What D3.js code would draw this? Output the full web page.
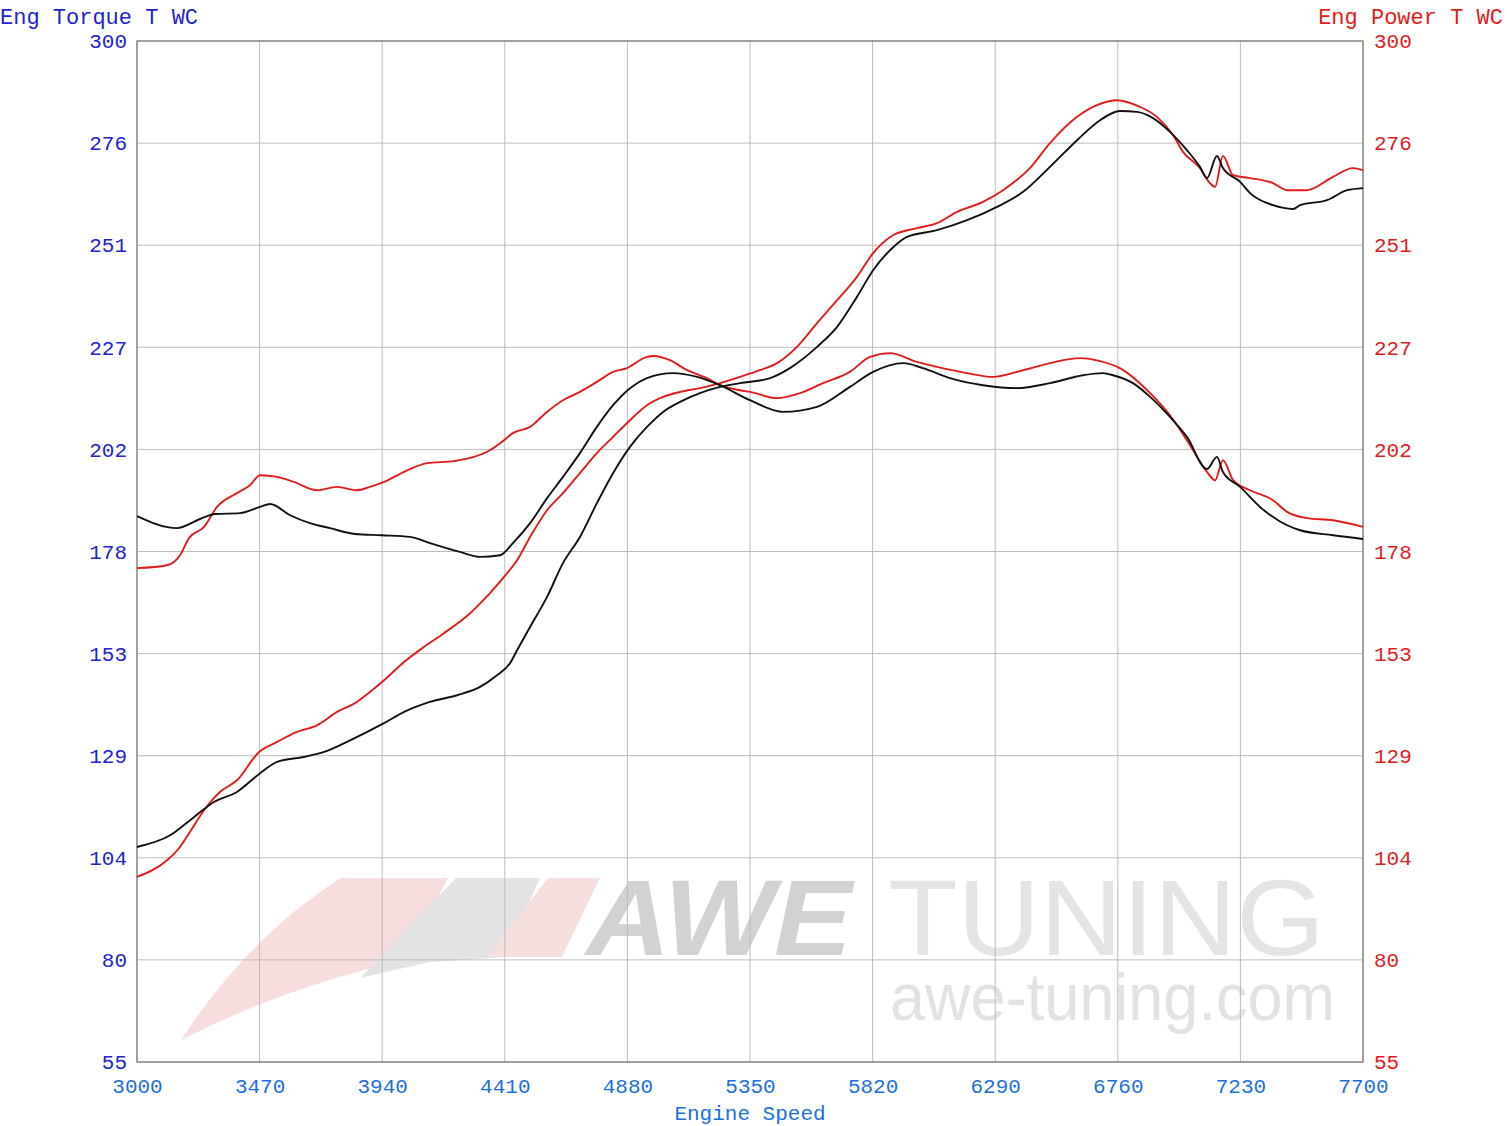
<!DOCTYPE html>
<html><head><meta charset="utf-8">
<script src="https://cdn.jsdelivr.net/npm/d3@7"></script>
<style>body{margin:0;background:#fff}</style>
</head><body><svg id="c" width="1507" height="1126"></svg>
<script>
// ---- data ----
const xTicks = [3000,3470,3940,4410,4880,5350,5820,6290,6760,7230,7700];
const yTickLabels = ["300","276","251","227","202","178","153","129","104","80","55"];

const blackTorqueRpm = [3000,3153,3242,3299,3395,3472,3510,3587,3663,3740,3836,3939,4047,4123,4238,4315,4392,4441,4507,4572,4633,4698,4763,4825,4890,4955,5055,5147,5235,5350,5477,5607,5733,5822,5937,6013,6117,6243,6374,6500,6627,6703,6742,6818,6884,6960,7025,7102,7140,7163,7229,7305,7409,7459,7585,7700];
const blackTorque = [186.0,183.1,185.3,186.5,186.7,188.2,188.9,186.2,184.3,183.1,181.7,181.4,181.0,179.5,177.4,176.2,176.6,179.5,184.3,190.3,195.4,201.1,207.4,212.6,216.7,219.1,220.3,219.4,217.4,213.8,211.0,212.2,217.0,220.6,222.7,221.5,219.1,217.4,216.7,217.9,219.8,220.3,219.8,217.9,214.6,209.8,205.0,197.3,200.2,196.6,193.0,188.2,183.8,182.6,181.4,180.5];

const redTorqueRpm = [3000,3115,3165,3199,3257,3307,3383,3433,3472,3537,3602,3690,3767,3843,3893,3947,4024,4112,4215,4292,4353,4407,4441,4507,4572,4633,4698,4763,4825,4878,4955,4978,5043,5109,5185,5235,5312,5350,5454,5542,5630,5733,5810,5887,5990,6067,6182,6282,6397,6500,6615,6692,6768,6884,6960,7025,7102,7133,7163,7202,7267,7355,7409,7485,7585,7700];
const redTorque = [173.5,174.2,176.6,180.7,183.4,188.2,191.5,193.4,195.8,195.4,194.2,192.2,193.0,192.2,193.0,194.2,196.6,198.7,199.2,200.2,201.8,204.2,205.9,207.4,211.0,213.8,215.8,218.2,220.6,221.5,224.2,224.4,223.4,221.0,219.1,217.4,216.2,215.8,214.3,215.5,217.9,220.6,224.2,225.1,223.0,221.8,220.3,219.4,221.0,222.7,223.9,223.2,221.5,215.5,210.2,204.2,196.6,194.6,199.4,194.6,192.2,189.8,187.0,185.5,185.0,183.4];

const blackPowerRpm = [3000,3127,3219,3295,3383,3472,3537,3640,3717,3817,3947,4024,4123,4227,4315,4380,4430,4457,4507,4572,4633,4698,4763,4825,4890,4955,5017,5082,5158,5235,5312,5427,5503,5607,5684,5760,5822,5887,5952,6067,6182,6297,6397,6500,6604,6692,6768,6834,6895,6960,7025,7075,7102,7140,7163,7229,7267,7355,7432,7459,7562,7639,7700];
const blackPower = [106.6,109.4,113.8,117.4,119.8,124.3,127.0,128.2,129.4,132.2,136.3,139.0,141.4,143.0,145.0,147.8,150.7,153.8,159.4,166.6,174.7,181.0,189.1,196.3,202.6,207.4,211.0,213.4,215.5,217.0,217.9,219.1,221.5,226.6,231.4,238.6,245.0,249.8,253.0,254.6,257.0,260.2,263.8,269.8,276.2,281.0,283.2,283.0,281.5,278.2,273.8,269.8,267.1,272.4,269.5,266.2,263.5,260.6,259.7,260.6,261.8,264.2,264.7];

const redPowerRpm = [3000,3115,3165,3203,3257,3318,3383,3468,3537,3613,3690,3767,3843,3893,3947,4024,4100,4177,4277,4353,4407,4457,4507,4572,4633,4698,4763,4825,4890,4955,5017,5082,5158,5235,5312,5388,5454,5530,5607,5684,5760,5822,5898,5990,6067,6144,6243,6320,6423,6500,6604,6680,6757,6845,6910,6972,7010,7075,7113,7133,7163,7202,7267,7355,7409,7485,7585,7662,7700];
const redPower = [99.4,103.4,106.6,110.2,115.4,119.8,122.6,129.4,131.8,134.2,135.8,139.0,141.4,143.8,146.6,151.0,154.6,157.9,162.7,167.5,171.4,175.4,181.0,187.4,191.5,196.3,201.1,205.0,209.0,212.6,214.6,215.8,216.7,217.9,219.4,221.0,222.7,226.6,232.3,237.8,243.4,249.1,253.4,255.1,256.3,259.0,261.4,264.2,269.5,275.5,281.8,284.6,285.8,284.2,281.8,277.4,273.4,269.5,265.9,265.0,272.4,267.8,267.1,265.9,264.2,264.2,267.4,269.5,269.0];

// ---- layout ----
const m = {l:137, r:1363, t:41, b:1062};
const svg = d3.select("#c");
const x = d3.scaleLinear().domain([3000,7700]).range([m.l, m.r]);
const y = d3.scaleLinear().domain([55,300]).range([m.b, m.t]);
const yTickVals = yTickLabels.map((_, i) => 300 - 24.5 * i);
const mono = "'Liberation Mono','DejaVu Sans Mono',monospace";
const blueL = "#2323cf", blueX = "#1c6fe0", red = "#e41b1b";

// ---- watermark ----
const wm = svg.append("g");
wm.append("path").attr("d","M181,1040 Q250,935 341,878 L448,878 L405,960 Q290,985 181,1040 Z").attr("fill","#f7dddd");
wm.append("path").attr("d","M360,978 L456,878 L540,878 L505,957 L430,962 Z").attr("fill","#e3e3e3");
wm.append("path").attr("d","M487,957 L548,878 L600,878 L562,957 Z").attr("fill","#f5dfdf");
wm.append("text").attr("x",586).attr("y",955).attr("font-family","'Liberation Sans',Arial,sans-serif")
  .attr("font-size",107).attr("font-weight","bold").attr("font-style","italic").attr("fill","#d2d2d2")
  .attr("textLength",266).attr("lengthAdjust","spacingAndGlyphs").text("AWE");
wm.append("text").attr("x",888).attr("y",955).attr("font-family","'Liberation Sans',Arial,sans-serif")
  .attr("font-size",107).attr("fill","#e4e4e4")
  .attr("textLength",437).attr("lengthAdjust","spacingAndGlyphs").text("TUNING");
wm.append("text").attr("x",890).attr("y",1020).attr("font-family","'Liberation Sans',Arial,sans-serif")
  .attr("font-size",66).attr("fill","#e2e2e2")
  .attr("textLength",445).attr("lengthAdjust","spacingAndGlyphs").text("awe-tuning.com");

// ---- grid ----
const grid = svg.append("g").attr("stroke","#bcbcbc").attr("stroke-width",1);
grid.selectAll("line.h").data(yTickVals).join("line").attr("class","h")
  .attr("x1",m.l).attr("x2",m.r).attr("y1",d=>y(d)).attr("y2",d=>y(d));
grid.selectAll("line.v").data(xTicks).join("line").attr("class","v")
  .attr("y1",m.t).attr("y2",m.b).attr("x1",d=>x(d)).attr("x2",d=>x(d));
svg.append("rect").attr("x",m.l).attr("y",m.t).attr("width",m.r-m.l).attr("height",m.b-m.t)
  .attr("fill","none").attr("stroke","#8c8c8c").attr("stroke-width",1.5);

// ---- axes ----
const ax = (g, color) => {
  g.select(".domain").remove();
  g.selectAll("line").remove();
  g.selectAll("text").attr("fill", color).attr("font-family", mono).attr("font-size", 21);
};
svg.append("g").attr("transform",`translate(${m.l},0)`)
  .call(d3.axisLeft(y).tickValues(yTickVals).tickFormat((d,i)=>yTickLabels[i]).tickSize(0).tickPadding(10))
  .call(g=>ax(g, blueL));
svg.append("g").attr("transform",`translate(${m.r},0)`)
  .call(d3.axisRight(y).tickValues(yTickVals).tickFormat((d,i)=>yTickLabels[i]).tickSize(0).tickPadding(11))
  .call(g=>ax(g, red));
svg.append("g").attr("transform",`translate(0,${m.b})`)
  .call(d3.axisBottom(x).tickValues(xTicks).tickFormat(d3.format("d")).tickSize(0).tickPadding(16))
  .call(g=>ax(g, blueX));

svg.append("text").attr("x",0).attr("y",24).attr("font-family",mono).attr("font-size",22)
  .attr("fill",blueL).text("Eng Torque T WC");
svg.append("text").attr("x",1503).attr("y",24).attr("text-anchor","end").attr("font-family",mono).attr("font-size",22)
  .attr("fill",red).text("Eng Power T WC");
svg.append("text").attr("x",(m.l+m.r)/2).attr("y",1120).attr("text-anchor","middle").attr("font-family",mono).attr("font-size",21)
  .attr("fill",blueX).text("Engine Speed");

// ---- lines ----
const line = d3.line().x(d=>x(d[0])).y(d=>y(d[1])).curve(d3.curveMonotoneX);
const series = [
  {rpm: redTorqueRpm, v: redTorque, c: red},
  {rpm: redPowerRpm, v: redPower, c: red},
  {rpm: blackTorqueRpm, v: blackTorque, c: "#111"},
  {rpm: blackPowerRpm, v: blackPower, c: "#111"}
];
svg.append("g").selectAll("path").data(series).join("path")
  .attr("d", s => line(s.rpm.map((r,i)=>[r, s.v[i]])))
  .attr("fill","none").attr("stroke", s=>s.c).attr("stroke-width",1.9).attr("stroke-linejoin","round");
</script>
</body></html>
